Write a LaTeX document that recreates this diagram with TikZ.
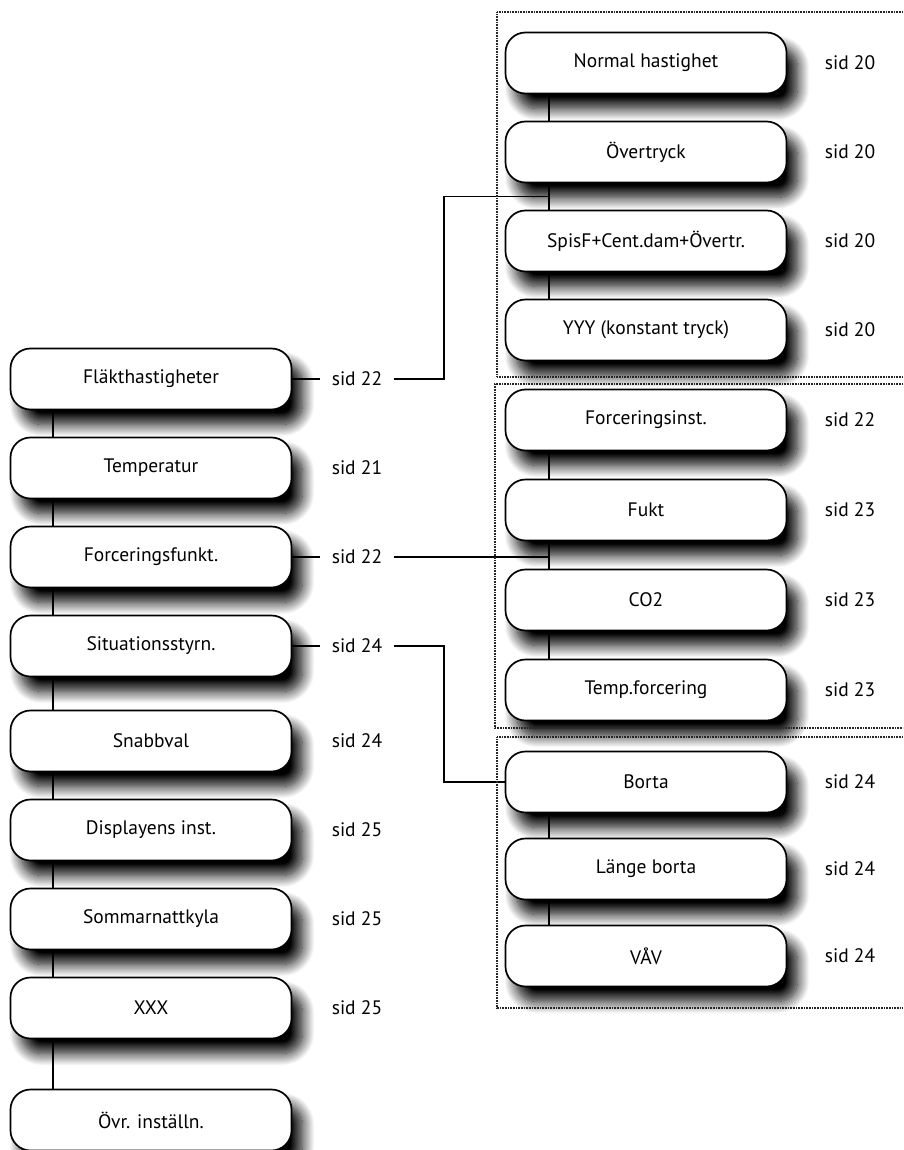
\documentclass[tikz,border=0pt]{standalone}
\usepackage{fontspec}
\setmainfont{PT Sans}
\usetikzlibrary{positioning,shadows.blur,calc}

\begin{document}
\begin{tikzpicture}[x=1pt,y=-1pt,node distance=89pt,font=\fontsize{19.5}{22}\selectfont]

	% Define node styles
	\tikzstyle{menu box} = [draw, line width=1.7pt, rounded corners=20pt, fill=white,
		minimum width=281pt, minimum height=61pt,
		blur shadow={shadow xshift=11pt, shadow yshift=-15pt, shadow blur radius=12pt,
			shadow blur steps=16, shadow opacity=100}]
	\tikzstyle{sid label} = [inner sep=12pt]
	\tikzstyle{link} = [line width=1.8pt]
	\tikzstyle{group frame} = [draw=black!85, line width=2.2pt, dash pattern=on 1pt off 0.6pt]

	\useasboundingbox (0,0) rectangle (903,1150);

	% Main menu (left column)
	\node[menu box] (fan) at (151,379) {Fläkthastigheter};
	\node[menu box] (temp) [below of=fan] {Temperatur};
	\node[menu box] (forc) [below of=temp] {Forceringsfunkt.};
	\node[menu box] (situ) [below of=forc] {Situationsstyrn.};
	\node[menu box] (snabb) [below of=situ, node distance=95pt] {Snabbval};
	\node[menu box] (disp) [below of=snabb] {Displayens inst.};
	\node[menu box] (somm) [below of=disp] {Sommarnattkyla};
	\node[menu box] (xxx) [below of=somm] {XXX};
	\node[menu box] (ovr) [below of=xxx, node distance=112pt] {Övr. inställn.};

	% Sub menus (right column)
	\node[menu box] (normal) at (646,63) {Normal hastighet};
	\node[menu box] (overt) [below of=normal] {Övertryck};
	\node[menu box] (spisf) [below of=overt] {SpisF+Cent.dam+Övertr.};
	\node[menu box] (yyy) [below of=spisf] {YYY (konstant tryck)};

	\node[menu box] (finst) at (646,420) {Forceringsinst.};
	\node[menu box] (fukt) [below of=finst, node distance=90pt] {Fukt};
	\node[menu box] (co2) [below of=fukt, node distance=90pt] {CO2};
	\node[menu box] (tforc) [below of=co2, node distance=90pt] {Temp.forcering};

	\node[menu box] (borta) at (646,782) {Borta};
	\node[menu box] (lange) [below of=borta, node distance=87pt] {Länge borta};
	\node[menu box] (vav) [below of=lange, node distance=87pt] {VÅV};

	% Page references
	\foreach \menu/\page in {fan/22, temp/21, forc/22, situ/24, snabb/24, disp/25, somm/25, xxx/25}
		\node[sid label, right of=\menu, node distance=206pt] (s\menu) {sid \page};
	\foreach \menu/\page in {normal/20, overt/20, spisf/20, yyy/20, finst/22, fukt/23, co2/23, tforc/23, borta/24, lange/24, vav/24}
		\node[sid label, right of=\menu, node distance=204pt] (s\menu) {sid \page};

	% Column lines
	\coordinate (lx) at (53,0);
	\coordinate (rx) at (549,0);
	\foreach \source/\dest in {fan/temp, temp/forc, forc/situ, situ/snabb, snabb/disp, disp/somm, somm/xxx, xxx/ovr}
		\draw[link] (\source.south -| lx) -- (\dest.north -| lx);
	\foreach \source/\dest in {normal/overt, overt/spisf, spisf/yyy, finst/fukt, fukt/co2, co2/tforc, borta/lange, lange/vav}
		\draw[link] (\source.south -| rx) -- (\dest.north -| rx);

	% Links to sub menus
	\foreach \menu in {fan, forc, situ}
		\draw[link] (\menu.east) -- (s\menu.west);
	\coordinate (fanx) at (444,0);
	\draw[link] (sfan.east) -- (sfan.east -| fanx) |- ($(overt.south -| rx)!0.5!(spisf.north -| rx)$);
	\draw[link] (sforc.east) -- (sforc.east -| rx);
	\draw[link] (ssitu.east) -- (ssitu.east -| fanx) |- (borta.west);

	% Group frames
	\draw[group frame] (903,12) -- (497,12) -- (497,377) -- (903,377);
	\draw[group frame] (903,384) -- (495,384) -- (495,728) -- (903,728);
	\draw[group frame] (903,737) -- (497,737) -- (497,1008) -- (903,1008);

\end{tikzpicture}
\end{document}
